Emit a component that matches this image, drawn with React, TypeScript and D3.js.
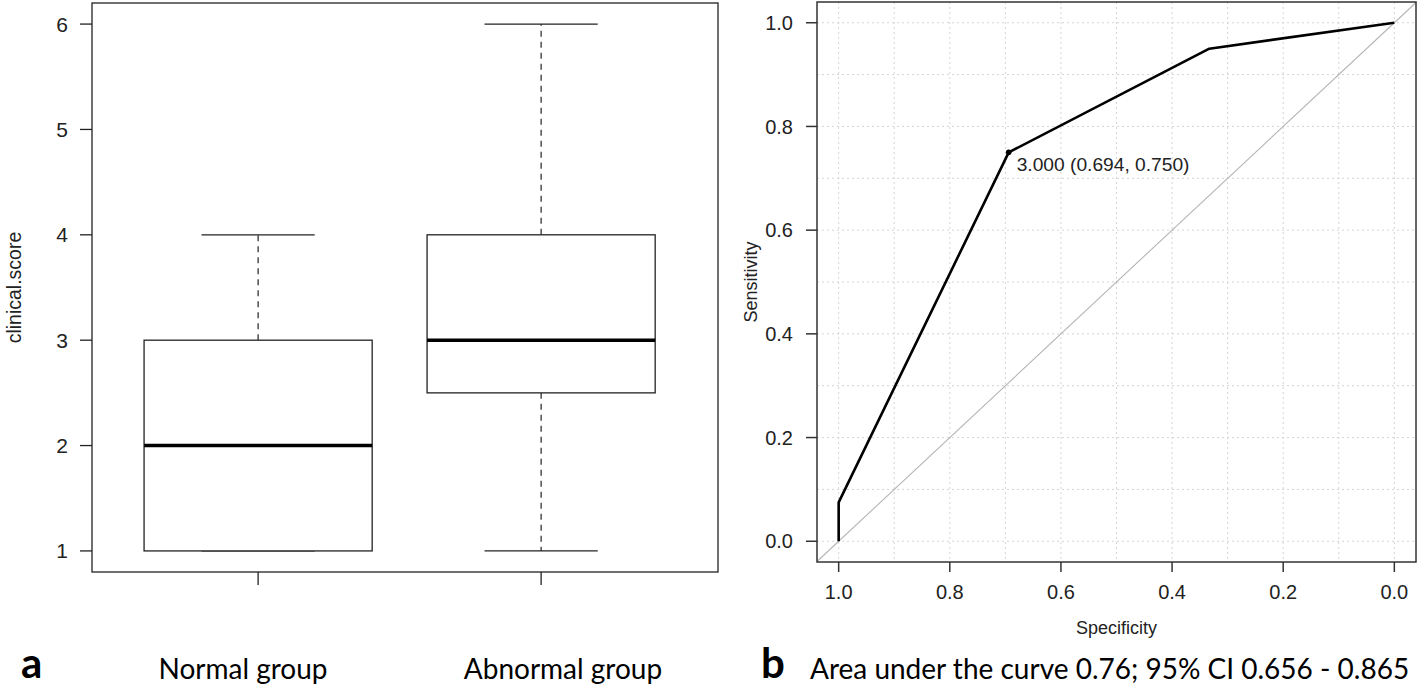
import React from "react";
import * as d3 from "d3";

// ---- Data ----
const groups = ["Normal group", "Abnormal group"];
const whiskerLow = [1, 1];
const quart1 = [1, 2.5];
const medians = [2, 3];
const quart3 = [3, 4];
const whiskerHigh = [4, 6];
const scoreTicks = [1, 2, 3, 4, 5, 6];

const specificity = [1, 1, 0.694, 0.333, 0];
const sensitivity = [0, 0.075, 0.75, 0.95, 1];
const rocTicks = [0, 0.2, 0.4, 0.6, 0.8, 1.0];
const gridValues = [0, 0.1, 0.2, 0.3, 0.4, 0.5, 0.6, 0.7, 0.8, 0.9, 1.0];
const bestSpec = 0.694;
const bestSens = 0.75;
const bestLabel = "3.000 (0.694, 0.750)";
const aucText = "Area under the curve 0.76; 95% CI 0.656 - 0.865";

const RFONT = "'Liberation Sans', Arial, sans-serif";
const CFONT = "Lato, 'Open Sans', sans-serif";

export default function App() {
  // Left panel (boxplot)
  const L = { x0: 92, x1: 718, y0: 3, y1: 572 };
  const xB = d3.scaleLinear().domain([0.413, 2.625]).range([L.x0, L.x1]);
  const yB = d3.scaleLinear().domain([0.8, 6.2]).range([L.y1, L.y0]);
  const boxHalf = 0.403;
  const capHalf = 0.2;

  // Right panel (ROC)
  const R = { x0: 817, x1: 1416, y0: 2, y1: 562 };
  const xR = d3.scaleLinear().domain([1.039, -0.039]).range([R.x0, R.x1]);
  const yR = d3.scaleLinear().domain([-0.04, 1.04]).range([R.y1, R.y0]);

  const rocLine = d3
    .line<number>()
    .x((_, i) => xR(specificity[i]))
    .y((_, i) => yR(sensitivity[i]));

  const dark = "#222";

  return (
    <svg
      width={1418}
      height={687}
      style={{ position: "absolute", left: 0, top: 0, background: "#fff" }}
    >
      <rect x={0} y={0} width={1418} height={687} fill="#fff" />

      {/* ===== Left panel ===== */}
      <g>
        {groups.map((g, i) => {
          const c = xB(i + 1);
          const bl = xB(i + 1 - boxHalf);
          const br = xB(i + 1 + boxHalf);
          const cl = xB(i + 1 - capHalf);
          const cr = xB(i + 1 + capHalf);
          return (
            <g key={g}>
              <line x1={c} x2={c} y1={yB(quart3[i])} y2={yB(whiskerHigh[i])} stroke={dark} strokeWidth={1.2} strokeDasharray="6,5" />
              <line x1={c} x2={c} y1={yB(quart1[i])} y2={yB(whiskerLow[i])} stroke={dark} strokeWidth={1.2} strokeDasharray="6,5" />
              <line x1={cl} x2={cr} y1={yB(whiskerHigh[i])} y2={yB(whiskerHigh[i])} stroke={dark} strokeWidth={1.3} />
              <line x1={cl} x2={cr} y1={yB(whiskerLow[i])} y2={yB(whiskerLow[i])} stroke={dark} strokeWidth={1.3} />
              <rect x={bl} y={yB(quart3[i])} width={br - bl} height={yB(quart1[i]) - yB(quart3[i])} fill="#fff" stroke={dark} strokeWidth={1.3} />
              <line x1={bl} x2={br} y1={yB(medians[i])} y2={yB(medians[i])} stroke="#000" strokeWidth={3.6} />
              <line x1={c} x2={c} y1={L.y1} y2={L.y1 + 13} stroke={dark} strokeWidth={1.3} />
            </g>
          );
        })}
        <rect x={L.x0} y={L.y0} width={L.x1 - L.x0} height={L.y1 - L.y0} fill="none" stroke={dark} strokeWidth={1.3} />
        {scoreTicks.map((t) => (
          <g key={t}>
            <line x1={L.x0 - 12} x2={L.x0} y1={yB(t)} y2={yB(t)} stroke={dark} strokeWidth={1.3} />
            <text x={68} y={yB(t)} dy="0.36em" textAnchor="end" fontFamily={RFONT} fontSize={21} fill="#222">
              {t}
            </text>
          </g>
        ))}
        <text transform={`translate(21,${(L.y0 + L.y1) / 2}) rotate(-90)`} textAnchor="middle" fontFamily={RFONT} fontSize={19.5} fill="#222">
          clinical.score
        </text>
      </g>

      {/* ===== Right panel ===== */}
      <g>
        {gridValues.map((v) => (
          <g key={"g" + v}>
            <line x1={xR(v)} x2={xR(v)} y1={R.y0} y2={R.y1} stroke="#d4d4d4" strokeWidth={1} strokeDasharray="2,3" />
            <line x1={R.x0} x2={R.x1} y1={yR(v)} y2={yR(v)} stroke="#d4d4d4" strokeWidth={1} strokeDasharray="2,3" />
          </g>
        ))}
        <line x1={xR(1.039)} y1={yR(-0.039)} x2={xR(-0.04)} y2={yR(1.04)} stroke="#b5b5b5" strokeWidth={1.1} />
        <path d={rocLine(specificity) || ""} fill="none" stroke="#000" strokeWidth={2.6} strokeLinejoin="round" />
        <circle cx={xR(bestSpec)} cy={yR(bestSens)} r={2.8} fill="#000" />
        <text x={xR(bestSpec) + 8} y={yR(bestSens) + 19} fontFamily={RFONT} fontSize={19.2} fill="#222">
          {bestLabel}
        </text>
        <rect x={R.x0} y={R.y0} width={R.x1 - R.x0} height={R.y1 - R.y0} fill="none" stroke="#333" strokeWidth={1.5} />
        {rocTicks.map((t) => (
          <g key={"t" + t}>
            <line x1={R.x0 - 11} x2={R.x0} y1={yR(t)} y2={yR(t)} stroke="#333" strokeWidth={1.5} />
            <text x={793} y={yR(t)} dy="0.36em" textAnchor="end" fontFamily={RFONT} fontSize={20} fill="#222">
              {t.toFixed(1)}
            </text>
            <line x1={xR(t)} x2={xR(t)} y1={R.y1} y2={R.y1 + 10} stroke="#333" strokeWidth={1.5} />
            <text x={xR(t)} y={599} textAnchor="middle" fontFamily={RFONT} fontSize={20} fill="#222">
              {t.toFixed(1)}
            </text>
          </g>
        ))}
        <text transform={`translate(757,${(R.y0 + R.y1) / 2}) rotate(-90)`} textAnchor="middle" fontFamily={RFONT} fontSize={18} fill="#222">
          Sensitivity
        </text>
        <text x={(R.x0 + R.x1) / 2} y={634} textAnchor="middle" fontFamily={RFONT} fontSize={18} fill="#222">
          Specificity
        </text>
      </g>

      {/* ===== Bottom captions ===== */}
      <text x={21} y={678} fontFamily={CFONT} fontWeight="bold" fontSize={42} fill="#000">a</text>
      <text x={243} y={679} textAnchor="middle" fontFamily={CFONT} fontSize={28} fill="#000">{groups[0]}</text>
      <text x={563} y={679} textAnchor="middle" fontFamily={CFONT} fontSize={28} fill="#000">{groups[1]}</text>
      <text x={761} y={678} fontFamily={CFONT} fontWeight="bold" fontSize={42} fill="#000">b</text>
      <text x={810} y={679} fontFamily={CFONT} fontSize={28} fill="#000">{aucText}</text>
    </svg>
  );
}
